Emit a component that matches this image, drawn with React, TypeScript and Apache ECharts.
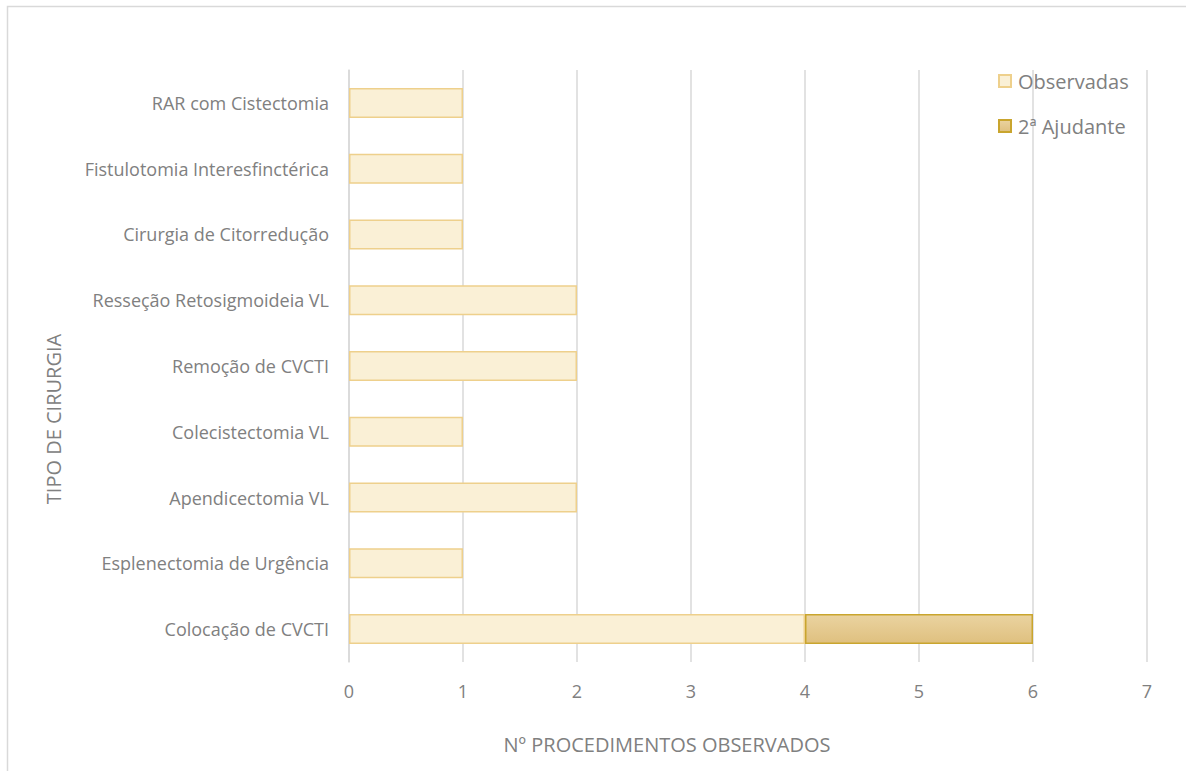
import React, { useEffect, useRef } from "react";
import * as echarts from "echarts";

const categories = [
  "Colocação de CVCTI",
  "Esplenectomia de Urgência",
  "Apendicectomia VL",
  "Colecistectomia VL",
  "Remoção de CVCTI",
  "Resseção Retosigmoideia VL",
  "Cirurgia de Citorredução",
  "Fistulotomia Interesfinctérica",
  "RAR com Cistectomia",
];
const observadas = [4, 1, 2, 1, 2, 2, 1, 1, 1];
const ajudante2 = [2, 0, 0, 0, 0, 0, 0, 0, 0];
const seriesNames = ["Observadas", "2ª Ajudante"];
const xTicks = { min: 0, max: 7, interval: 1 };

const FONT = "'Open Sans', 'Noto Sans', sans-serif";
const GRAY = "#808080";

export default function App() {
  const ref = useRef<HTMLDivElement>(null);
  useEffect(() => {
    if (!ref.current) return;
    const chart = echarts.init(ref.current, null, { renderer: "svg" });
    chart.setOption({
      animation: false,
      backgroundColor: "#ffffff",
      textStyle: { fontFamily: FONT },
      graphic: [
        {
          type: "rect",
          shape: { x: 7.5, y: 6.5, width: 1200, height: 800 },
          style: { fill: "none", stroke: "#d9d9d9", lineWidth: 1.5 },
          silent: true,
        },
      ],
      grid: { left: 349, right: 39, top: 70, bottom: 109 },
      legend: {
        orient: "vertical",
        left: 998,
        top: 71,
        padding: 0,
        itemGap: 25,
        itemWidth: 12,
        itemHeight: 12,
        icon: "rect",
        textStyle: { color: GRAY, fontSize: 20, lineHeight: 20, fontFamily: FONT, padding: [0, 0, 0, 2] },
        data: seriesNames,
      },
      xAxis: {
        type: "value",
        min: xTicks.min,
        max: xTicks.max,
        interval: xTicks.interval,
        name: "Nº PROCEDIMENTOS OBSERVADOS",
        nameLocation: "middle",
        nameGap: 72,
        nameTextStyle: { color: GRAY, fontSize: 20, fontFamily: FONT, padding: [0, 162, 0, 0] },
        axisLine: { show: false },
        axisTick: { show: false },
        axisLabel: { color: GRAY, fontSize: 18, margin: 20, fontFamily: FONT },
        splitLine: { show: true, lineStyle: { color: "#d9d9d9", width: 1.5 } },
      },
      yAxis: {
        type: "category",
        data: categories,
        name: "TIPO DE CIRURGIA",
        nameLocation: "middle",
        nameGap: 286,
        nameRotate: 90,
        nameTextStyle: { color: GRAY, fontSize: 20, fontFamily: FONT, padding: [0, 106, 0, 0] },
        axisLine: { show: true, lineStyle: { color: "#d9d9d9", width: 1.5 } },
        axisTick: { show: false },
        axisLabel: { color: GRAY, fontSize: 18, margin: 20, fontFamily: FONT },
      },
      series: [
        {
          name: seriesNames[0],
          type: "bar",
          stack: "total",
          barWidth: 30,
          data: observadas.map((v) => (v === 0 ? "-" : v)),
          itemStyle: { color: "#faf0d6", borderColor: "#eed08c", borderWidth: 1.5 },
        },
        {
          name: seriesNames[1],
          type: "bar",
          stack: "total",
          barWidth: 30,
          data: ajudante2.map((v) => (v === 0 ? "-" : v)),
          itemStyle: {
            color: new echarts.graphic.LinearGradient(0, 0, 0, 1, [
              { offset: 0, color: "#ead3a0" },
              { offset: 1, color: "#dfc07f" },
            ]),
            borderColor: "#c9a52e",
            borderWidth: 1.5,
          },
        },
      ],
    });
    return () => chart.dispose();
  }, []);
  return (
    <div
      ref={ref}
      style={{ position: "absolute", left: 0, top: 0, width: 1186, height: 771 }}
    />
  );
}
